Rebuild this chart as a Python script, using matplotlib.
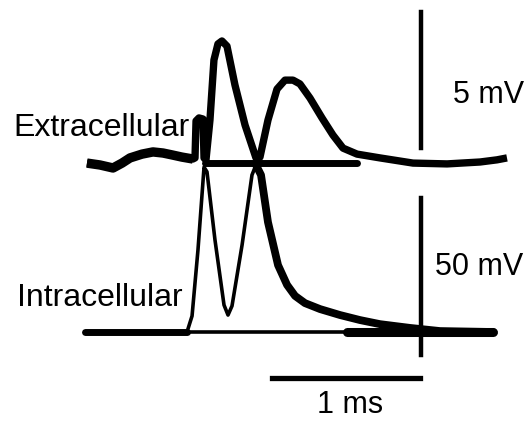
import matplotlib
matplotlib.use("Agg")
import matplotlib.pyplot as plt

plt.rcParams['font.family'] = ['Liberation Sans', 'DejaVu Sans']

# ---------------- data (time in ms, voltage in mV) ----------------
extra_t = [-0.007, 0.081, 0.169, 0.230, 0.284, 0.365, 0.439, 0.507, 0.568, 0.635,
           0.709, 0.723, 0.730, 0.750, 0.777, 0.784, 0.797, 0.824, 0.851, 0.878,
           0.905, 0.939, 0.993, 1.061, 1.135, 1.162, 1.216, 1.277, 1.331, 1.385,
           1.432, 1.500, 1.581, 1.655, 1.723, 1.818, 1.973, 2.196, 2.426, 2.649,
           2.764, 2.831]
extra_v = [-0.04, -0.11, -0.22, -0.04, 0.15, 0.29, 0.37, 0.33, 0.26, 0.18,
           0.11, 0.15, 1.51, 1.62, 1.58, 0.15, 0.07, 1.54, 3.75, 4.34,
           4.45, 4.26, 2.83, 1.36, 0.15, 0.18, 1.54, 2.68, 3.01, 3.01,
           2.87, 2.35, 1.62, 0.99, 0.51, 0.29, 0.15, -0.04, -0.07, 0.00,
           0.08, 0.15]
extra_noisy_end = 11  # noisy baseline part drawn a bit thicker
extra_flat_t = [0.791, 1.818]
extra_flat_v = [-0.04, -0.04]

intra_t = [0.669, 0.703, 0.743, 0.784, 0.804, 0.858, 0.919, 0.946, 0.973, 1.041,
           1.108, 1.135, 1.169, 1.216, 1.284, 1.345, 1.399, 1.466, 1.568, 1.703,
           1.838, 1.973, 2.176, 2.378, 2.736]
intra_v = [-65.0, -59.9, -38.9, -12.5, -14.0, -35.7, -56.4, -59.6, -56.7, -37.3,
           -15.0, -11.8, -15.0, -30.0, -43.7, -50.0, -53.5, -55.8, -57.7, -59.6,
           -61.2, -62.5, -63.7, -64.7, -65.0]
decay_start = 11  # index of second spike peak; decay drawn thicker

base_t = [-0.020, 0.669, 1.750, 2.736]
base_v = [-65.0, -65.0, -65.0, -65.0]

# scale bars
time_bar = [1.243, 2.243]      # 1 ms
extra_bar = [0.51, 5.51]       # 5 mV
intra_bar = [-72.3, -22.3]     # 50 mV
bar_t = 2.25
labels = ["Extracellular", "Intracellular"]

# ---------------- figure ----------------
fig = plt.figure(figsize=(5.25, 4.22), dpi=100)
fig.patch.set_facecolor('white')
ax = fig.add_axes([0, 0, 1, 1])
ax2 = fig.add_axes([0, 0, 1, 1], sharex=ax)
ax2.patch.set_alpha(0)
for a in (ax, ax2):
    a.axis('off')
ax.set_xlim(-0.5946, 2.9527)
ax.set_ylim(-9.559, 5.956)
ax2.set_ylim(-93.66, 40.73)

k = 'black'
# extracellular
ax.plot(extra_t, extra_v, color=k, lw=5.3, solid_joinstyle='round', solid_capstyle='butt')
ax.plot(extra_t[:extra_noisy_end], extra_v[:extra_noisy_end], color=k, lw=6.8,
        solid_joinstyle='round', solid_capstyle='butt')
ax.plot(extra_flat_t, extra_flat_v, color=k, lw=5.0, solid_capstyle='round')

# intracellular
ax2.plot(base_t, base_v, color=k, lw=2.6)
ax2.plot(base_t[:2], base_v[:2], color=k, lw=5.0, solid_capstyle='round')
ax2.plot(base_t[2:], base_v[2:], color=k, lw=6.5, solid_capstyle='round')
ax2.plot(intra_t, intra_v, color=k, lw=2.6, solid_joinstyle='round')
ax2.plot(intra_t[decay_start:], intra_v[decay_start:], color=k, lw=5.6,
         solid_joinstyle='round', solid_capstyle='round')

# scale bars
ax.plot([bar_t, bar_t], extra_bar, color=k, lw=3.2)
ax2.plot([bar_t, bar_t], intra_bar, color=k, lw=3.2)
ax2.plot(time_bar, [-79.6, -79.6], color=k, lw=3.8)

fs = 22
ax.text(2.466, 2.46, "5 mV", fontsize=fs, ha='left', va='center')
ax2.text(2.345, -44.3, "50 mV", fontsize=fs, ha='left', va='center')
ax2.text(1.77, -88.2, "1 ms", fontsize=fs, ha='center', va='center')
ax.text(0.689, 1.25, labels[0], fontsize=23, ha='right', va='center')
ax2.text(0.642, -54.2, labels[1], fontsize=23, ha='right', va='center')

fig.savefig("out.png", dpi=100, facecolor='white')
